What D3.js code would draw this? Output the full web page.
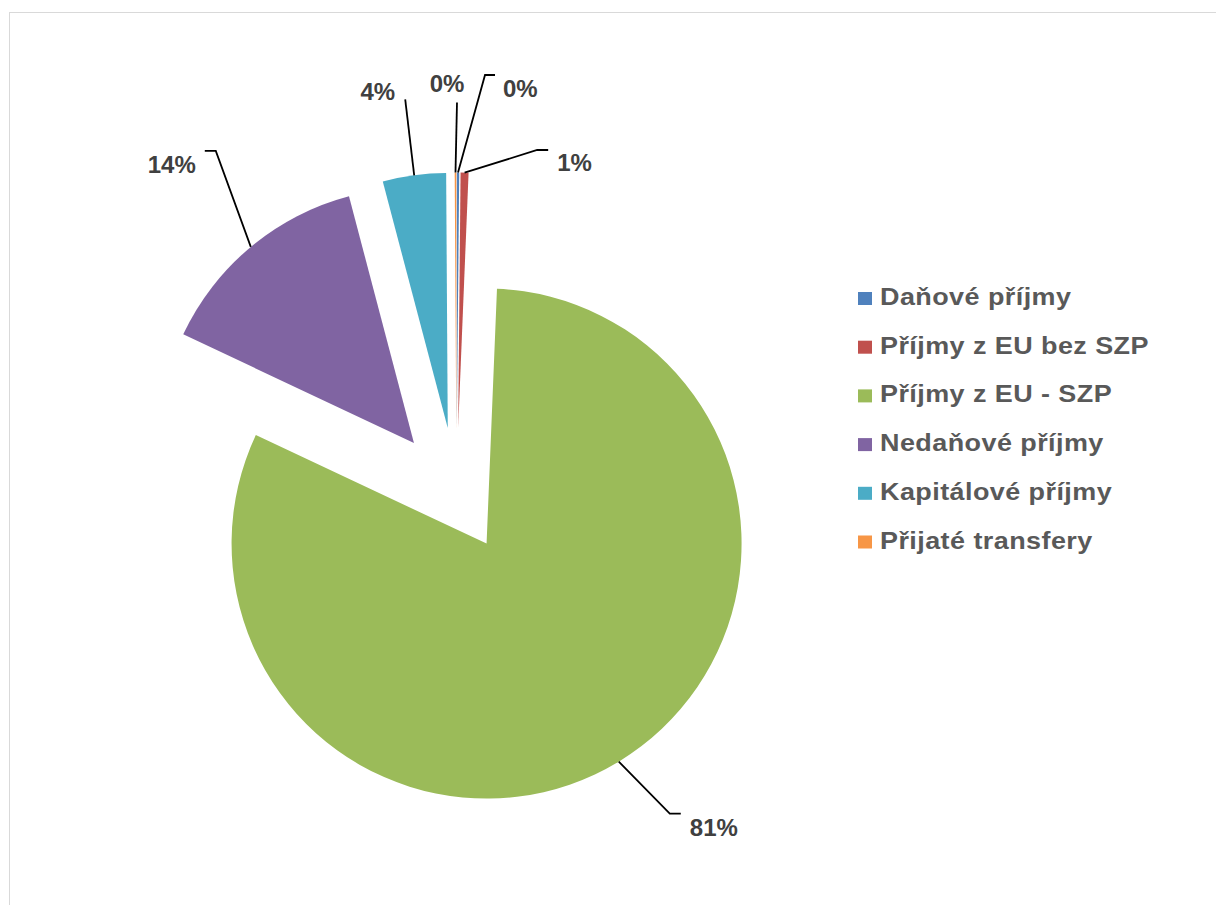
<!DOCTYPE html>
<html>
<head>
<meta charset="utf-8">
<script src="https://cdn.jsdelivr.net/npm/d3@7/dist/d3.min.js"></script>
<style>
  body { margin: 0; background: #fff; }
  svg { display: block; }
</style>
</head>
<body>
<svg width="1216" height="905"></svg>
<script>
// data
var categories = ["Daňové příjmy", "Příjmy z EU bez SZP", "Příjmy z EU - SZP", "Nedaňové příjmy", "Kapitálové příjmy", "Přijaté transfery"];
var shares = [0.15, 0.5, 81.35, 13.9, 4.0, 0.1];
var colors = ["#4F81BD", "#C0504D", "#9BBB59", "#8064A2", "#4BACC6", "#F79646"];

// layout
var explode = [66.5, 66.5, 58, 66.5, 66.5, 66.5];
// leader elbow (relative to slice edge), horizontal tail, text position (relative), text anchor
var leader = [
  {elbow: [27, -97.5], tail: 10, text: [45, -75.5], anchor: "start"},
  {elbow: [72.6, -22.6], tail: 11, text: [92.6, -1.6], anchor: "start"},
  {elbow: [51, 52], tail: 11, text: [71, 74], anchor: "start"},
  {elbow: [-35, -96], tail: -11, text: [-55, -74], anchor: "end"},
  {elbow: [-9, -76], tail: 0, text: [-19, -75], anchor: "end"},
  {elbow: [1.5, -70], tail: 0, text: [-8.5, -80.5], anchor: "middle"}
];

var svg = d3.select("svg"),
    width = +svg.attr("width"),
    height = +svg.attr("height");

// chart frame
svg.append("rect")
    .attr("x", 9.5).attr("y", 12.5)
    .attr("width", width + 10).attr("height", height + 10)
    .attr("fill", "#fff")
    .attr("stroke", "#d9d9d9")
    .attr("stroke-width", 1);

var cx = 456.5, cy = 494, R = 255;

var pie = d3.pie().sort(null).value(function(d) { return d; });
var arc = d3.arc().innerRadius(0).outerRadius(R);
var arcs = pie(shares);

function mid(d) { return (d.startAngle + d.endAngle) / 2; }

var g = svg.append("g").attr("transform", "translate(" + cx + "," + cy + ")");

g.selectAll("path.slice")
    .data(arcs)
    .enter().append("path")
    .attr("class", "slice")
    .attr("d", arc)
    .attr("fill", function(d, i) { return colors[i]; })
    .attr("transform", function(d, i) {
      var a = mid(d);
      return "translate(" + (explode[i] * Math.sin(a)) + "," + (-explode[i] * Math.cos(a)) + ")";
    });

// leader lines + labels
function edgePoint(d, i) {
  var a = mid(d), r = explode[i] + R;
  return [r * Math.sin(a), -r * Math.cos(a)];
}

g.selectAll("path.leader")
    .data(arcs)
    .enter().append("path")
    .attr("class", "leader")
    .attr("fill", "none")
    .attr("stroke", "#000")
    .attr("stroke-width", 1.8)
    .attr("d", function(d, i) {
      var p = edgePoint(d, i), L = leader[i];
      var ex = p[0] + L.elbow[0], ey = p[1] + L.elbow[1];
      var s = "M" + p[0] + "," + p[1] + "L" + ex + "," + ey;
      if (L.tail) s += "L" + (ex + L.tail) + "," + ey;
      return s;
    });

g.selectAll("text.pct")
    .data(arcs)
    .enter().append("text")
    .attr("class", "pct")
    .attr("x", function(d, i) { return edgePoint(d, i)[0] + leader[i].text[0]; })
    .attr("y", function(d, i) { return edgePoint(d, i)[1] + leader[i].text[1]; })
    .attr("text-anchor", function(d, i) { return leader[i].anchor; })
    .attr("font-family", "'Liberation Sans', Arial, sans-serif")
    .attr("font-weight", "bold")
    .attr("font-size", 24)
    .attr("fill", "#404040")
    .text(function(d) { return Math.round(d.data) + "%"; });

// legend
var legend = svg.append("g").attr("transform", "translate(858,305)");
var item = legend.selectAll("g")
    .data(categories)
    .enter().append("g")
    .attr("transform", function(d, i) { return "translate(0," + (i * 48.7) + ")"; });

item.append("rect")
    .attr("x", 0).attr("y", -13)
    .attr("width", 14).attr("height", 13)
    .attr("fill", function(d, i) { return colors[i]; });

// legend glyphs in the original are noticeably wide
item.append("text")
    .attr("transform", "translate(22,0) scale(1.1,1)")
    .attr("font-family", "'Liberation Sans', Arial, sans-serif")
    .attr("font-weight", "bold")
    .attr("font-size", 24.5)
    .attr("letter-spacing", 0.4)
    .attr("fill", "#595959")
    .text(function(d) { return d; });
</script>
</body>
</html>
